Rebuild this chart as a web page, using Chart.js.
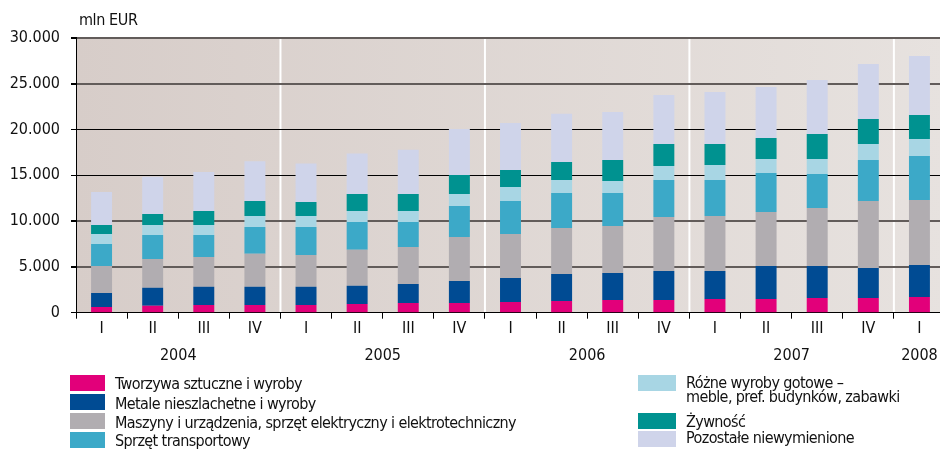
<!DOCTYPE html>
<html>
<head>
<meta charset="utf-8">
<script src="https://cdn.jsdelivr.net/npm/chart.js@4"></script>
<style>
  html, body { margin: 0; padding: 0; background: #ffffff; overflow: hidden; width: 940px; height: 449px; }
  #wrap { position: absolute; left: 0; top: 0; width: 946px; height: 449px; }
  #unit { position: absolute; left: 79px; top: 10px; font: 16px 'DejaVu Sans Condensed', 'DejaVu Sans', sans-serif; font-stretch: condensed; color: #111; letter-spacing: -0.4px; }
  .lg { position: absolute; font: 16px 'DejaVu Sans Condensed', 'DejaVu Sans', sans-serif; font-stretch: condensed; color: #111; line-height: 16px; white-space: nowrap; letter-spacing: -0.6px; }
  .sw { position: absolute; }
</style>
</head>
<body>
<div id="wrap"><canvas id="c" width="946" height="449"></canvas></div>
<div id="unit">mln EUR</div>
<div id="legend"></div>
<script>
// ---- data ----
const categories = ['I','II','III','IV','I','II','III','IV','I','II','III','IV','I','II','III','IV','I'];
const yearLabels = ['2004','2005','2006','2007','2008'];
const yearSpans = [4, 4, 4, 4, 1];
const yTicks = [0, 5000, 10000, 15000, 20000, 25000, 30000];

const seriesNames = [
  'Tworzywa sztuczne i wyroby',
  'Metale nieszlachetne i wyroby',
  'Maszyny i urządzenia, sprzęt elektryczny i elektrotechniczny',
  'Sprzęt transportowy',
  'Różne wyroby gotowe –\nmeble, pref. budynków, zabawki',
  'Żywność',
  'Pozostałe niewymienione'
];
const seriesColors = ['#e2007a', '#004b93', '#b1adb1', '#3ca9c8', '#a8d6e4', '#009290', '#cfd4ea'];

const tworzywa  = [620, 760, 840, 840, 840, 950, 1050, 1050, 1160, 1270, 1380, 1380, 1490, 1490, 1600, 1600, 1710];
const metale    = [1525, 1970, 2000, 2000, 2000, 2000, 2080, 2400, 2620, 2950, 2950, 3170, 3060, 3600, 3490, 3270, 3490];
const maszyny   = [2945, 3120, 3230, 3600, 3450, 3920, 4030, 4800, 4800, 5020, 5120, 5890, 6000, 5890, 6330, 7310, 7090];
const transport = [2400, 2620, 2400, 2910, 3060, 3020, 2730, 3390, 3600, 3810, 3600, 4030, 3920, 4260, 3710, 4470, 4800];
const rozne     = [1090, 1090, 1090, 1200, 1200, 1200, 1200, 1310, 1530, 1420, 1310, 1530, 1640, 1520, 1630, 1750, 1860];
const zywnosc   = [980, 1200, 1530, 1630, 1520, 1860, 1860, 2070, 1850, 1970, 2290, 2400, 2290, 2290, 2730, 2730, 2610];
const pozostale = [3600, 4080, 4260, 4330, 4220, 4430, 4830, 5020, 5130, 5270, 5240, 5350, 5670, 5570, 5890, 6000, 6440];

const seriesValues = [tworzywa, metale, maszyny, transport, rozne, zywnosc, pozostale];

// ---- chart ----
const FONT = "'DejaVu Sans Condensed', 'DejaVu Sans', sans-serif";

const bgPlugin = {
  id: 'bg',
  beforeDraw(chart) {
    const a = chart.chartArea, ctx = chart.ctx;
    const g = ctx.createLinearGradient(a.left, 0, a.right, 0);
    g.addColorStop(0, '#d7cdc9');
    g.addColorStop(1, '#e7e2df');
    ctx.save();
    ctx.fillStyle = g;
    ctx.fillRect(a.left, a.top, a.right - a.left, a.bottom - a.top);
    // white year separators
    const xs = chart.scales.x;
    ctx.strokeStyle = '#ffffff';
    ctx.lineWidth = 2;
    let idx = 0;
    for (let i = 0; i < yearSpans.length - 1; i++) {
      idx += yearSpans[i];
      const x = (xs.getPixelForValue(idx - 1) + xs.getPixelForValue(idx)) / 2;
      ctx.beginPath();
      ctx.moveTo(x, a.top);
      ctx.lineTo(x, a.bottom);
      ctx.stroke();
    }
    ctx.restore();
  }
};

const yearPlugin = {
  id: 'years',
  afterDraw(chart) {
    const xs = chart.scales.x, ctx = chart.ctx, a = chart.chartArea;
    ctx.save();
    ctx.font = '16px ' + FONT;
    ctx.fillStyle = '#111';
    ctx.textAlign = 'center';
    ctx.textBaseline = 'middle';
    let idx = 0;
    yearLabels.forEach((lab, i) => {
      const from = idx, to = idx + yearSpans[i] - 1;
      const cx = (xs.getPixelForValue(from) + xs.getPixelForValue(to)) / 2;
      ctx.fillText(lab, cx, a.bottom + 43);
      idx += yearSpans[i];
    });
    ctx.restore();
  }
};

function gridColor(ctx) {
  const v = ctx.tick ? ctx.tick.value : null;
  if (v === 0) return '#000000';
  if (v === 15000 || v === 20000) return '#000000';
  return '#625c5a';
}
function gridWidth(ctx) {
  const v = ctx.tick ? ctx.tick.value : null;
  if (v === 15000 || v === 20000 || v === 0) return 1;
  return 2;
}

new Chart(document.getElementById('c'), {
  type: 'bar',
  data: {
    labels: categories,
    datasets: seriesValues.map((vals, i) => ({
      label: seriesNames[i],
      data: vals,
      backgroundColor: seriesColors[i],
      borderWidth: 0,
      barPercentage: 0.41,
      categoryPercentage: 1.0
    }))
  },
  plugins: [bgPlugin, yearPlugin],
  options: {
    responsive: false,
    devicePixelRatio: 1,
    animation: false,
    layout: { padding: { left: 0, right: 1, top: 37.7, bottom: 0 } },
    plugins: { legend: { display: false }, tooltip: { enabled: false } },
    scales: {
      x: {
        stacked: true,
        afterFit(scale) { scale.height = 136.3; },
        grid: { display: true, drawOnChartArea: false, offset: true, tickLength: 6, color: '#000000', lineWidth: 1 },
        border: { display: true, color: '#000000', width: 1 },
        ticks: { color: '#111', font: { family: FONT, size: 16 }, padding: 1, maxRotation: 0, autoSkip: false }
      },
      y: {
        stacked: true,
        min: 0,
        max: 30000,
        afterFit(scale) { scale.width = 76; },
        afterBuildTicks(scale) { scale.ticks = yTicks.map(v => ({ value: v })); },
        grid: { color: gridColor, lineWidth: gridWidth, tickLength: 5, tickColor: '#000000' },
        border: { display: true, color: '#000000', width: 1 },
        ticks: {
          color: '#111',
          padding: 11,
          font: { family: FONT, size: 16 },
          callback: v => v === 0 ? '0' : String(v).replace(/\B(?=(\d{3})+(?!\d))/g, '.')
        }
      }
    }
  }
});

// ---- HTML legend ----
const legendLayout = [
  { sx: 70, sy: 375, tx: 115, ty: 376 },
  { sx: 70, sy: 394, tx: 115, ty: 395.5 },
  { sx: 70, sy: 413, tx: 115, ty: 414.5 },
  { sx: 70, sy: 432, tx: 115, ty: 433 },
  { sx: 638, sy: 375, tx: 686, ty: 376 },
  { sx: 638, sy: 413, tx: 686, ty: 413.5 },
  { sx: 638, sy: 431, tx: 686, ty: 430 }
];
const lg = document.getElementById('legend');
seriesNames.forEach((name, i) => {
  const L = legendLayout[i];
  const sw = document.createElement('div');
  sw.className = 'sw';
  sw.style.left = L.sx + 'px';
  sw.style.top = L.sy + 'px';
  sw.style.width = (i < 4 ? 35 : 38) + 'px';
  sw.style.height = '16px';
  sw.style.background = seriesColors[i];
  lg.appendChild(sw);
  const t = document.createElement('div');
  t.className = 'lg';
  t.style.left = L.tx + 'px';
  t.style.top = L.ty + 'px';
  name.split('\n').forEach((line, k) => {
    if (k) t.appendChild(document.createElement('br'));
    t.appendChild(document.createTextNode(line));
  });
  if (i === 4) t.style.lineHeight = '14px';
  lg.appendChild(t);
});
</script>
</body>
</html>
